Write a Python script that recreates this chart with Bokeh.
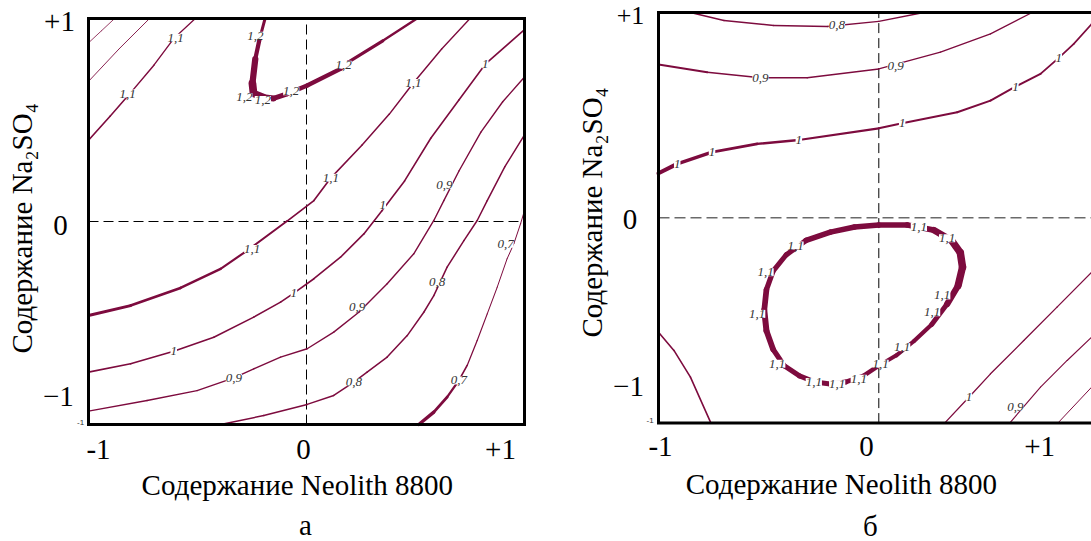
from bokeh.plotting import figure
from bokeh.models import Range1d
from bokeh.embed import file_html
from bokeh.resources import INLINE
from bokeh.core.properties import value

LINE = "#7d0b3e"
SERIF = "Liberation Serif"
W, H = 1091, 541

# ---------------- panel "а": isolines in coded units (x = Neolith 8800, y = Na2SO4)
a_corner1_x = [-1.0, -0.94, -0.88]
a_corner1_y = [0.88, 0.94, 1.0]
a_corner2_x = [-1.0, -0.86, -0.72]
a_corner2_y = [0.69, 0.85, 1.0]
a_11_left_x = [-1.0, -0.90, -0.81, -0.70, -0.61, -0.51]
a_11_left_y = [0.40, 0.52, 0.63, 0.77, 0.90, 1.0]
a_12_x = [-0.19, -0.215, -0.235, -0.248, -0.243, -0.197, -0.151, -0.089, 0.003, 0.156, 0.19, 0.35, 0.507]
a_12_y = [1.0, 0.90, 0.80, 0.68, 0.631, 0.612, 0.606, 0.629, 0.670, 0.752, 0.784, 0.89, 1.0]
a_11_x = [-1.0, -0.807, -0.578, -0.394, -0.272, -0.089, 0.034, 0.112, 0.254, 0.38, 0.49, 0.62, 0.75]
a_11_y = [-0.463, -0.414, -0.327, -0.233, -0.143, 0.002, 0.103, 0.215, 0.376, 0.529, 0.682, 0.85, 1.0]
a_10_x = [-1.0, -0.807, -0.609, -0.425, -0.242, -0.119, -0.058, 0.034, 0.156, 0.263, 0.347, 0.45, 0.57, 0.70, 0.82, 1.0]
a_10_y = [-0.742, -0.701, -0.639, -0.57, -0.471, -0.397, -0.353, -0.282, -0.176, -0.061, 0.054, 0.20, 0.41, 0.60, 0.775, 0.945]
a_09_x = [-1.0, -0.731, -0.502, -0.333, -0.242, -0.119, 0.003, 0.125, 0.24, 0.37, 0.492, 0.584, 0.63, 0.70, 0.80, 0.90, 1.0]
a_09_y = [-0.934, -0.882, -0.833, -0.77, -0.726, -0.668, -0.627, -0.545, -0.447, -0.307, -0.159, 0.005, 0.103, 0.25, 0.44, 0.59, 0.712]
a_08_x = [-0.394, -0.196, 0.003, 0.125, 0.217, 0.278, 0.37, 0.462, 0.538, 0.584, 0.645, 0.722, 0.783, 0.829, 0.91, 1.0]
a_08_y = [-1.0, -0.956, -0.901, -0.857, -0.791, -0.742, -0.668, -0.562, -0.447, -0.365, -0.225, -0.094, 0.005, 0.103, 0.27, 0.427]
a_07_x = [0.515, 0.584, 0.645, 0.699, 0.737, 0.783, 0.829, 0.875, 0.920, 0.951, 0.982, 1.0]
a_07_y = [-1.0, -0.939, -0.865, -0.783, -0.709, -0.586, -0.455, -0.323, -0.184, -0.11, -0.011, 0.054]

a_lab_x = [-0.82, -0.60, -0.235, -0.285, -0.20, -0.07, 0.17, -0.249, 0.112, 0.49, -0.609, -0.058, 0.35, 0.82, -0.333, 0.232, 0.633, 0.217, 0.599, 0.699, 0.913]
a_lab_y = [0.63, 0.905, 0.915, 0.612, 0.598, 0.642, 0.772, -0.135, 0.215, 0.682, -0.639, -0.353, 0.08, 0.775, -0.77, -0.42, 0.18, -0.791, -0.30, -0.783, -0.11]
a_lab_t = ["1,1", "1,1", "1,2", "1,2", "1,2", "1,2", "1,2", "1,1", "1,1", "1,1", "1", "1", "1", "1",
           "0,9", "0,9", "0,9", "0,8", "0,8", "0,7", "0,7"]

# ---------------- panel "б"
b_08_x = [-0.855, -0.703, -0.477, -0.234, 0.0, 0.204]
b_08_y = [1.0, 0.961, 0.937, 0.932, 0.957, 1.0]
b_09_x = [-1.0, -0.779, -0.537, -0.325, 0.0, 0.28, 0.507, 0.696]
b_09_y = [0.747, 0.709, 0.682, 0.682, 0.725, 0.807, 0.896, 1.0]
b_10_x = [-1.0, -0.915, -0.757, -0.552, -0.363, 0.0, 0.106, 0.356, 0.507, 0.62, 0.734, 0.817, 0.885, 0.966, 1.0]
b_10_y = [0.217, 0.263, 0.32, 0.36, 0.379, 0.436, 0.461, 0.514, 0.571, 0.639, 0.701, 0.779, 0.847, 0.944, 0.985]
b_11_x = [0.0, 0.13, 0.25, 0.33, 0.37, 0.38, 0.36, 0.31, 0.24, 0.16, 0.08, 0.0, -0.07, -0.15, -0.22, -0.29,
          -0.36, -0.43, -0.48, -0.51, -0.52, -0.51, -0.48, -0.42, -0.33, -0.22, -0.11, 0.0]
b_11_y = [-0.035, -0.035, -0.06, -0.11, -0.17, -0.24, -0.33, -0.42, -0.52, -0.60, -0.67, -0.72, -0.77, -0.80,
          -0.81, -0.80, -0.77, -0.72, -0.64, -0.55, -0.45, -0.35, -0.26, -0.18, -0.11, -0.07, -0.045, -0.035]
b_low_left_x = [-1.0, -0.93, -0.855, -0.764]
b_low_left_y = [-0.557, -0.646, -0.776, -0.995]
b_10_low_x = [0.303, 0.409, 0.507, 0.658, 0.809, 0.966, 1.0]
b_10_low_y = [-0.995, -0.874, -0.76, -0.598, -0.435, -0.265, -0.23]
b_09_low_x = [0.598, 0.734, 0.855, 0.966]
b_09_low_y = [-0.995, -0.825, -0.695, -0.581]
b_08_low_x = [0.817, 0.966]
b_08_low_y = [-0.995, -0.825]

b_lab_x = [-0.19, -0.537, 0.076, -0.915, -0.757, -0.363, 0.106, 0.62, 0.817,
           0.182, 0.31, 0.288, 0.242, 0.106, 0.008, -0.091, -0.189, -0.295, -0.461, -0.552, -0.514, -0.378,
           0.409, 0.62]
b_lab_y = [0.937, 0.682, 0.74, 0.26, 0.32, 0.38, 0.46, 0.639, 0.779,
           -0.045, -0.10, -0.378, -0.46, -0.63, -0.711, -0.784, -0.81, -0.80, -0.711, -0.468, -0.265, -0.135,
           -0.874, -0.92]
b_lab_t = ["0,8", "0,9", "0,9", "1", "1", "1", "1", "1", "1"] + ["1,1"] * 13 + ["1", "0,9"]

# ---------------- line weights along each isoline (px)
a_widths = {
    "corner1": [0.8] * 3,
    "corner2": [0.9] * 3,
    "11_left": [1.7, 1.6, 1.5, 1.4, 1.3, 1.2],
    "12": [2.5, 3.5, 5.0, 7.5, 8.0, 6.5, 5.5, 4.5, 4.5, 4.0, 3.5, 2.8, 2.0],
    "11": [3.0, 2.8, 2.5, 2.3, 2.0, 1.8, 1.7, 1.6, 1.5, 1.5, 1.5, 1.4, 1.3],
    "10": [1.6] * 16,
    "09": [1.4] * 17,
    "08": [1.5] * 16,
    "07": [3.5, 3.2, 2.6, 2.0, 1.3, 1.2, 1.1, 1.0, 1.0, 1.0, 1.0, 1.0],
}
b_widths = {
    "08": [1.4] * 6,
    "09": [2.3, 1.8, 1.5, 1.4, 1.3, 1.3, 1.3, 1.3],
    "10": [4.5, 3.8, 3.0, 2.5, 2.3, 2.1, 2.0, 2.0, 2.0, 2.0, 1.9, 1.8, 1.7, 1.6, 1.6],
    "11": [5.5, 5.5, 6.0, 7.0, 7.5, 7.5, 7.0, 5.5, 4.5, 4.0, 4.0, 4.0, 4.5, 5.0, 5.0, 5.0,
           5.0, 5.0, 5.5, 6.0, 6.0, 5.5, 5.0, 5.0, 5.5, 5.5, 5.5, 5.5],
    "low_left": [1.6] * 4,
    "10_low": [1.3] * 7,
    "09_low": [1.1] * 4,
    "08_low": [1.0] * 2,
}

# pixel boxes of the two plotting areas on the page: left, right, top, bottom
A_BOX = (88, 524, 18, 424)
B_BOX = (658, 1098.6, 12, 422.6)


def panel_ranges(box):
    left, right, top, bottom = box
    cx, sx = (left + right) / 2, (right - left) / 2
    cy, sy = (top + bottom) / 2, (bottom - top) / 2
    return Range1d(-cx / sx, (W - cx) / sx), Range1d((cy - H) / sy, cy / sy)


p = figure(width=W, height=H, x_range=Range1d(0, W), y_range=Range1d(0, H),
           x_axis_location=None, y_axis_location=None, toolbar_location=None,
           output_backend="svg", min_border=0, min_border_left=0, min_border_right=0,
           min_border_top=0, min_border_bottom=0,
           background_fill_color="white", border_fill_color="white")
p.outline_line_color = None
p.xgrid.visible = False
p.ygrid.visible = False
xa, ya = panel_ranges(A_BOX)
xb, yb = panel_ranges(B_BOX)
p.extra_x_ranges = {"a": xa, "b": xb}
p.extra_y_ranges = {"a": ya, "b": yb}


def isoline(panel, xs, ys, widths):
    w = [(a + b) / 2 for a, b in zip(widths[:-1], widths[1:])]
    p.segment(x0=xs[:-1], y0=ys[:-1], x1=xs[1:], y1=ys[1:], line_width=w,
              line_color=LINE, line_cap="round", x_range_name=panel, y_range_name=panel)


def contour_labels(panel, xs, ys, texts):
    p.text(x=xs, y=ys, text=texts, text_font=value(SERIF), text_font_style="italic",
           text_font_size="13px", text_color="#333333", text_align="center",
           text_baseline="middle", background_fill_color="white", padding=0,
           x_range_name=panel, y_range_name=panel)


def cross_hairs(panel, h_color, h_width, h_dash):
    p.segment(x0=[0], y0=[-1], x1=[0], y1=[1], line_color="black", line_width=1, line_dash="10 5",
              x_range_name=panel, y_range_name=panel)
    p.segment(x0=[-1], y0=[0], x1=[1], y1=[0], line_color=h_color, line_width=h_width, line_dash=h_dash,
              x_range_name=panel, y_range_name=panel)


def border(panel):
    p.rect(x=[0], y=[0], width=[2], height=[2], fill_color=None, line_color="black", line_width=3,
           line_join="miter", x_range_name=panel, y_range_name=panel)


def label(panel, x, y, s, size="29px", align="center", baseline="alphabetic", angle=0,
          font=SERIF, color="black"):
    p.text(x=[x], y=[y], text=[s], text_font=value(font), text_font_size=size, text_align=align,
           text_baseline=baseline, angle=angle, angle_units="deg", text_color=color,
           x_range_name=panel, y_range_name=panel)


# ---------------- panel а
cross_hairs("a", "black", 1, "10 5")
isoline("a", a_corner1_x, a_corner1_y, a_widths["corner1"])
isoline("a", a_corner2_x, a_corner2_y, a_widths["corner2"])
isoline("a", a_11_left_x, a_11_left_y, a_widths["11_left"])
isoline("a", a_12_x, a_12_y, a_widths["12"])
isoline("a", a_11_x, a_11_y, a_widths["11"])
isoline("a", a_10_x, a_10_y, a_widths["10"])
isoline("a", a_09_x, a_09_y, a_widths["09"])
isoline("a", a_08_x, a_08_y, a_widths["08"])
isoline("a", a_07_x, a_07_y, a_widths["07"])
contour_labels("a", a_lab_x, a_lab_y, a_lab_t)
border("a")

label("a", -1.303, -0.034, "Содержание Na₂SO₄", baseline="middle", angle=90)
label("a", -1.133, 0.985, "+1")
label("a", -1.128, -0.02, "0")
label("a", -1.138, -0.862, "−1")
label("a", -1.02, -0.99, "-1", size="8px", align="right", baseline="middle", font="Liberation Sans", color="#333333")
label("a", -0.954, -1.123, "-1")
label("a", -0.014, -1.123, "0")
label("a", 0.89, -1.123, "+1")
label("a", -0.042, -1.296, "Содержание Neolith 8800")
label("a", -0.005, -1.493, "а")

# ---------------- panel б
cross_hairs("b", "#6a6a6a", 1.4, "11 5")
isoline("b", b_08_x, b_08_y, b_widths["08"])
isoline("b", b_09_x, b_09_y, b_widths["09"])
isoline("b", b_10_x, b_10_y, b_widths["10"])
isoline("b", b_11_x, b_11_y, b_widths["11"])
isoline("b", b_low_left_x, b_low_left_y, b_widths["low_left"])
isoline("b", b_10_low_x, b_10_low_y, b_widths["10_low"])
isoline("b", b_09_low_x, b_09_low_y, b_widths["09_low"])
isoline("b", b_08_low_x, b_08_low_y, b_widths["08_low"])
contour_labels("b", b_lab_x, b_lab_y, b_lab_t)
border("b")

label("b", -1.30, 0.026, "Содержание Na₂SO₄", baseline="middle", angle=90)
label("b", -1.127, 0.985, "+1", size="26px")
label("b", -1.129, -0.006, "0")
label("b", -1.136, -0.822, "−1")
label("b", -1.022, -0.987, "-1", size="8px", align="right", baseline="middle", font="Liberation Sans", color="#333333")
label("b", -0.991, -1.114, "-1")
label("b", -0.056, -1.114, "0")
label("b", 0.73, -1.114, "+1")
label("b", -0.17, -1.299, "Содержание Neolith 8800")
label("b", -0.038, -1.499, "б")

open("out.html", "w").write(file_html(p, INLINE))
